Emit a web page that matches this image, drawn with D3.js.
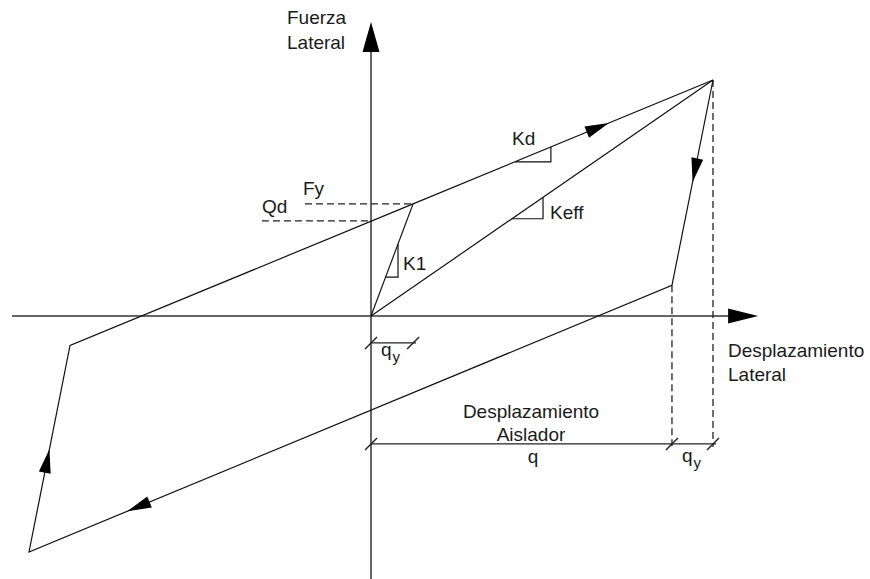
<!DOCTYPE html>
<html>
<head>
<meta charset="utf-8">
<script src="https://cdn.jsdelivr.net/npm/d3@7"></script>
<style>
  body { margin: 0; background: #fff; }
  text { font-family: "Liberation Sans", Arial, sans-serif; font-size: 19px; fill: #1a1a1a; }
</style>
</head>
<body>
<div id="chart"></div>
<script>
/**
 * Data (displacement, force) in relative units: peak = 10
 */
const peak = [10, 10]
const yieldPt = [1.23, 4.75]
const qdForce = 4.03
const unloadRight = [8.8, 1.3]
const valley = [-10, -10]
const reloadLeft = [-8.8, -1.25]

// hysteresis loop, closed
const loop = [peak, unloadRight, valley, reloadLeft, yieldPt, peak]
// arrows on loop: segment index and fraction where the tip sits
const loopArrows = [[4, 0.653], [0, 0.497], [2, 0.498], [1, 0.847]]

const axisX = [-10.5, 11.32]
const axisY = [-11.15, 12.46]

// slope triangles: line start, line end, x from, x to, label
const slopes = [
  { a: reloadLeft, b: yieldPt, x0: 4.21, x1: 5.26, label: "Kd" },
  { a: [0, 0], b: peak, x0: 4.12, x1: 5.03, label: "Keff" },
  { a: [0, 0], b: yieldPt, x0: 0.427, x1: 0.79, label: "K1" }
]

const dimY = -5.42
const qyDimY = -1.14

/**
 * Sizes
 */
const sizes = { width: 870, height: 579 }

const x = d3.scaleLinear().domain([0, 10]).range([371, 713])
const y = d3.scaleLinear().domain([0, 10]).range([316, 80])

const svg = d3.select("#chart")
  .append("svg")
    .attr("width", sizes.width)
    .attr("height", sizes.height)

const line = d3.line().x(d => x(d[0])).y(d => y(d[1]))

// triangle arrowhead with tip at (tx,ty) pointing along (dx,dy)
function arrowHead(tx, ty, dx, dy, len, half) {
  const n = Math.hypot(dx, dy), ux = dx / n, uy = dy / n
  const bx = tx - ux * len, by = ty - uy * len
  return [[tx, ty], [bx - uy * half, by + ux * half], [bx + uy * half, by - ux * half]]
}
const poly = pts => "M" + pts.map(p => p.join(",")).join("L") + "Z"

/**
 * Axes
 */
const axes = svg.append("g").attr("stroke", "#333").attr("stroke-width", 1.5)
axes.append("line")
  .attr("x1", x(axisX[0])).attr("x2", x(axisX[1]) - 20)
  .attr("y1", y(0)).attr("y2", y(0))
axes.append("line")
  .attr("x1", x(0)).attr("x2", x(0))
  .attr("y1", y(axisY[0])).attr("y2", y(axisY[1]) + 20)

svg.append("path")
  .attr("d", poly(arrowHead(x(axisX[1]), y(0), 1, 0, 30, 7.5)))
  .attr("fill", "#000")
svg.append("path")
  .attr("d", poly(arrowHead(x(0), y(axisY[1]), 0, -1, 30, 8.5)))
  .attr("fill", "#000")

/**
 * Dashed guides
 */
const dashes = svg.append("g")
  .attr("stroke", "#222").attr("stroke-width", 1.3).attr("stroke-dasharray", "7,4").attr("fill", "none")
dashes.append("line")
  .attr("x1", x(-1.93)).attr("x2", x(yieldPt[0])).attr("y1", y(yieldPt[1])).attr("y2", y(yieldPt[1]))
dashes.append("line")
  .attr("x1", x(-3.19)).attr("x2", x(0)).attr("y1", y(qdForce)).attr("y2", y(qdForce))
dashes.append("line")
  .attr("x1", x(unloadRight[0])).attr("x2", x(unloadRight[0])).attr("y1", y(unloadRight[1])).attr("y2", y(dimY) + 3)
dashes.append("line")
  .attr("x1", x(peak[0])).attr("x2", x(peak[0])).attr("y1", y(peak[1])).attr("y2", y(dimY) + 3)

/**
 * Loop and lines
 */
const g = svg.append("g").attr("stroke", "#111").attr("stroke-width", 1.2).attr("fill", "none")
g.append("path").attr("d", line(loop))
g.append("path").attr("d", line([[0, 0], yieldPt]))
g.append("path").attr("d", line([[0, 0], peak]))

loopArrows.forEach(([i, t]) => {
  const a = loop[i], b = loop[i + 1]
  const px = x(a[0] + (b[0] - a[0]) * t), py = y(a[1] + (b[1] - a[1]) * t)
  svg.append("path")
    .attr("d", poly(arrowHead(px, py, x(b[0]) - x(a[0]), y(b[1]) - y(a[1]), 24, 6)))
    .attr("fill", "#000")
})

// slope triangles
slopes.forEach(s => {
  const f = xv => s.a[1] + (s.b[1] - s.a[1]) * (xv - s.a[0]) / (s.b[0] - s.a[0])
  const lo = Math.min(f(s.x0), f(s.x1)), hi = Math.max(f(s.x0), f(s.x1))
  g.append("path").attr("d", line([[s.x0, lo], [s.x1, lo], [s.x1, hi]]))
})

/**
 * Dimension lines
 */
const dim = svg.append("g").attr("stroke", "#222").attr("stroke-width", 1.4)
dim.append("line").attr("x1", x(0)).attr("x2", x(peak[0]) + 3).attr("y1", y(dimY)).attr("y2", y(dimY))
dim.append("line").attr("x1", x(0)).attr("x2", x(yieldPt[0]) + 3).attr("y1", y(qyDimY)).attr("y2", y(qyDimY))
;[[0, dimY], [unloadRight[0], dimY], [peak[0], dimY], [0, qyDimY], [yieldPt[0], qyDimY]].forEach(p => {
  dim.append("line")
    .attr("x1", x(p[0]) - 6).attr("y1", y(p[1]) + 6)
    .attr("x2", x(p[0]) + 6).attr("y2", y(p[1]) - 6)
})

/**
 * Labels
 */
const label = (tx, ty, str, anchor) =>
  svg.append("text").attr("x", tx).attr("y", ty).attr("text-anchor", anchor || "start").text(str)

label(x(0) - 84, 24, "Fuerza")
label(x(0) - 84, 49, "Lateral")
label(728, 357, "Desplazamiento")
label(728, 381, "Lateral")
label(531, 418, "Desplazamiento", "middle")
label(531, 441, "Aislador", "middle")
label(533, 463, "q", "middle")
label(x(0) - 68, y(yieldPt[1]) - 9, "Fy")
label(x(0) - 109, y(qdForce) - 8, "Qd")
label(512, 145, "Kd")
label(550, 219, "Keff")
label(403, 270, "K1")

const sub = (tx, ty) => {
  const t = svg.append("text").attr("x", tx).attr("y", ty)
  t.append("tspan").text("q")
  t.append("tspan").attr("dx", 1).attr("dy", 6).attr("font-size", 15).text("y")
}
sub(381, 356)
sub(682, 462)
</script>
</body>
</html>
